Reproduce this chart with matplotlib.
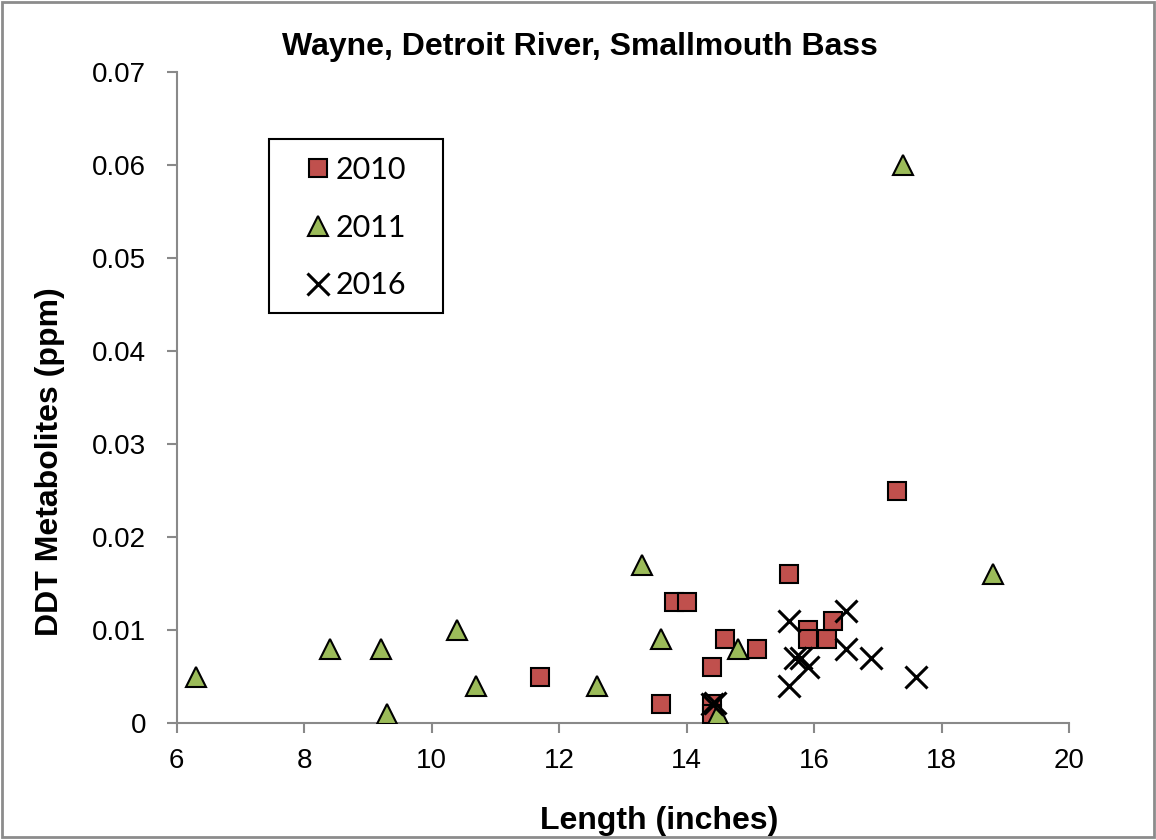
import matplotlib.pyplot as plt
from matplotlib.patches import Rectangle

# data
len_2010 = [11.7, 13.6, 13.8, 14.0, 14.4, 14.4, 14.4, 14.6, 15.1, 15.6, 15.9, 15.9, 16.2, 16.3, 17.3]
ddt_2010 = [0.005, 0.002, 0.013, 0.013, 0.006, 0.002, 0.001, 0.009, 0.008, 0.016, 0.010, 0.009, 0.009, 0.011, 0.025]

len_2011 = [6.3, 8.4, 9.2, 9.3, 10.4, 10.7, 12.6, 13.3, 13.6, 14.5, 14.8, 17.4, 18.8]
ddt_2011 = [0.005, 0.008, 0.008, 0.001, 0.010, 0.004, 0.004, 0.017, 0.009, 0.001, 0.008, 0.060, 0.016]

len_2016 = [14.4, 14.45, 15.6, 15.6, 15.7, 15.8, 15.9, 16.5, 16.5, 16.9, 17.6]
ddt_2016 = [0.002, 0.0022, 0.011, 0.004, 0.007, 0.007, 0.006, 0.012, 0.008, 0.007, 0.005]

x_ticks = [6, 8, 10, 12, 14, 16, 18, 20]
y_ticks = [0, 0.01, 0.02, 0.03, 0.04, 0.05, 0.06, 0.07]
y_labels = ['0', '0.01', '0.02', '0.03', '0.04', '0.05', '0.06', '0.07']

plt.rcParams['font.family'] = ['Liberation Sans', 'DejaVu Sans']

W, H = 1156, 840
fig = plt.figure(figsize=(W / 100, H / 100), dpi=100)
ax = fig.add_axes([176.5 / W, 1 - 723 / H, 892.5 / W, 651 / H])

# gray border round the whole picture
fig.patches.append(Rectangle((0.002, 0.004), 0.996, 0.994, transform=fig.transFigure,
                             fill=False, edgecolor='#8c8c8c', linewidth=2))

ax.plot(len_2010, ddt_2010, linestyle='none', marker='s', markersize=13.5,
        markerfacecolor='#C0504D', markeredgecolor='black', markeredgewidth=1.5, label='2010')
ax.plot(len_2011, ddt_2011, linestyle='none', marker='^', markersize=14,
        markerfacecolor='#9BBB59', markeredgecolor='black', markeredgewidth=1.5, label='2011')
ax.plot(len_2016, ddt_2016, linestyle='none', marker='x', markersize=16,
        markeredgecolor='black', markeredgewidth=2.2, label='2016')

ax.set_xlim(6, 20)
ax.set_ylim(0, 0.07)
ax.set_xticks(x_ticks)
ax.set_yticks(y_ticks)
ax.set_yticklabels(y_labels)

for s in ['top', 'right']:
    ax.spines[s].set_visible(False)
for s in ['left', 'bottom']:
    ax.spines[s].set_color('#898989')
    ax.spines[s].set_linewidth(1.5)
    ax.spines[s].set_zorder(0)
ax.tick_params(axis='both', colors='#898989', labelcolor='black', width=1.5, labelsize=20)
ax.tick_params(axis='y', direction='out', length=7, pad=15)
ax.tick_params(axis='x', direction='out', length=7, pad=11)

# titles placed like the original (labels sit off-centre)
fig.text(579.5 / W, 1 - 47 / H, 'Wayne, Detroit River, Smallmouth Bass', ha='center', va='center',
         fontsize=23, fontweight='bold')
fig.text(659 / W, 1 - 821 / H, 'Length (inches)', ha='center', va='center',
         fontsize=23, fontweight='bold')
fig.text(50 / W, 1 - 462 / H, 'DDT Metabolites (ppm)', ha='center', va='center',
         rotation=90, fontsize=23, fontweight='bold')

# legend: items without frame, box drawn separately
fig.patches.append(Rectangle((269 / W, 1 - 313 / H), 174 / W, 174 / H, transform=fig.transFigure,
                             fill=False, edgecolor='black', linewidth=1.5, zorder=5))
leg = ax.legend(loc='upper left', bbox_to_anchor=(284 / W, 1 - 156 / H), bbox_transform=fig.transFigure,
                frameon=False, markerscale=1.0,
                prop={'family': ['Lato', 'DejaVu Sans'], 'size': 22},
                handlelength=2.2, handletextpad=-0.5, borderpad=0, labelspacing=0.97,
                borderaxespad=0)

fig.savefig('out.png', dpi=100)
